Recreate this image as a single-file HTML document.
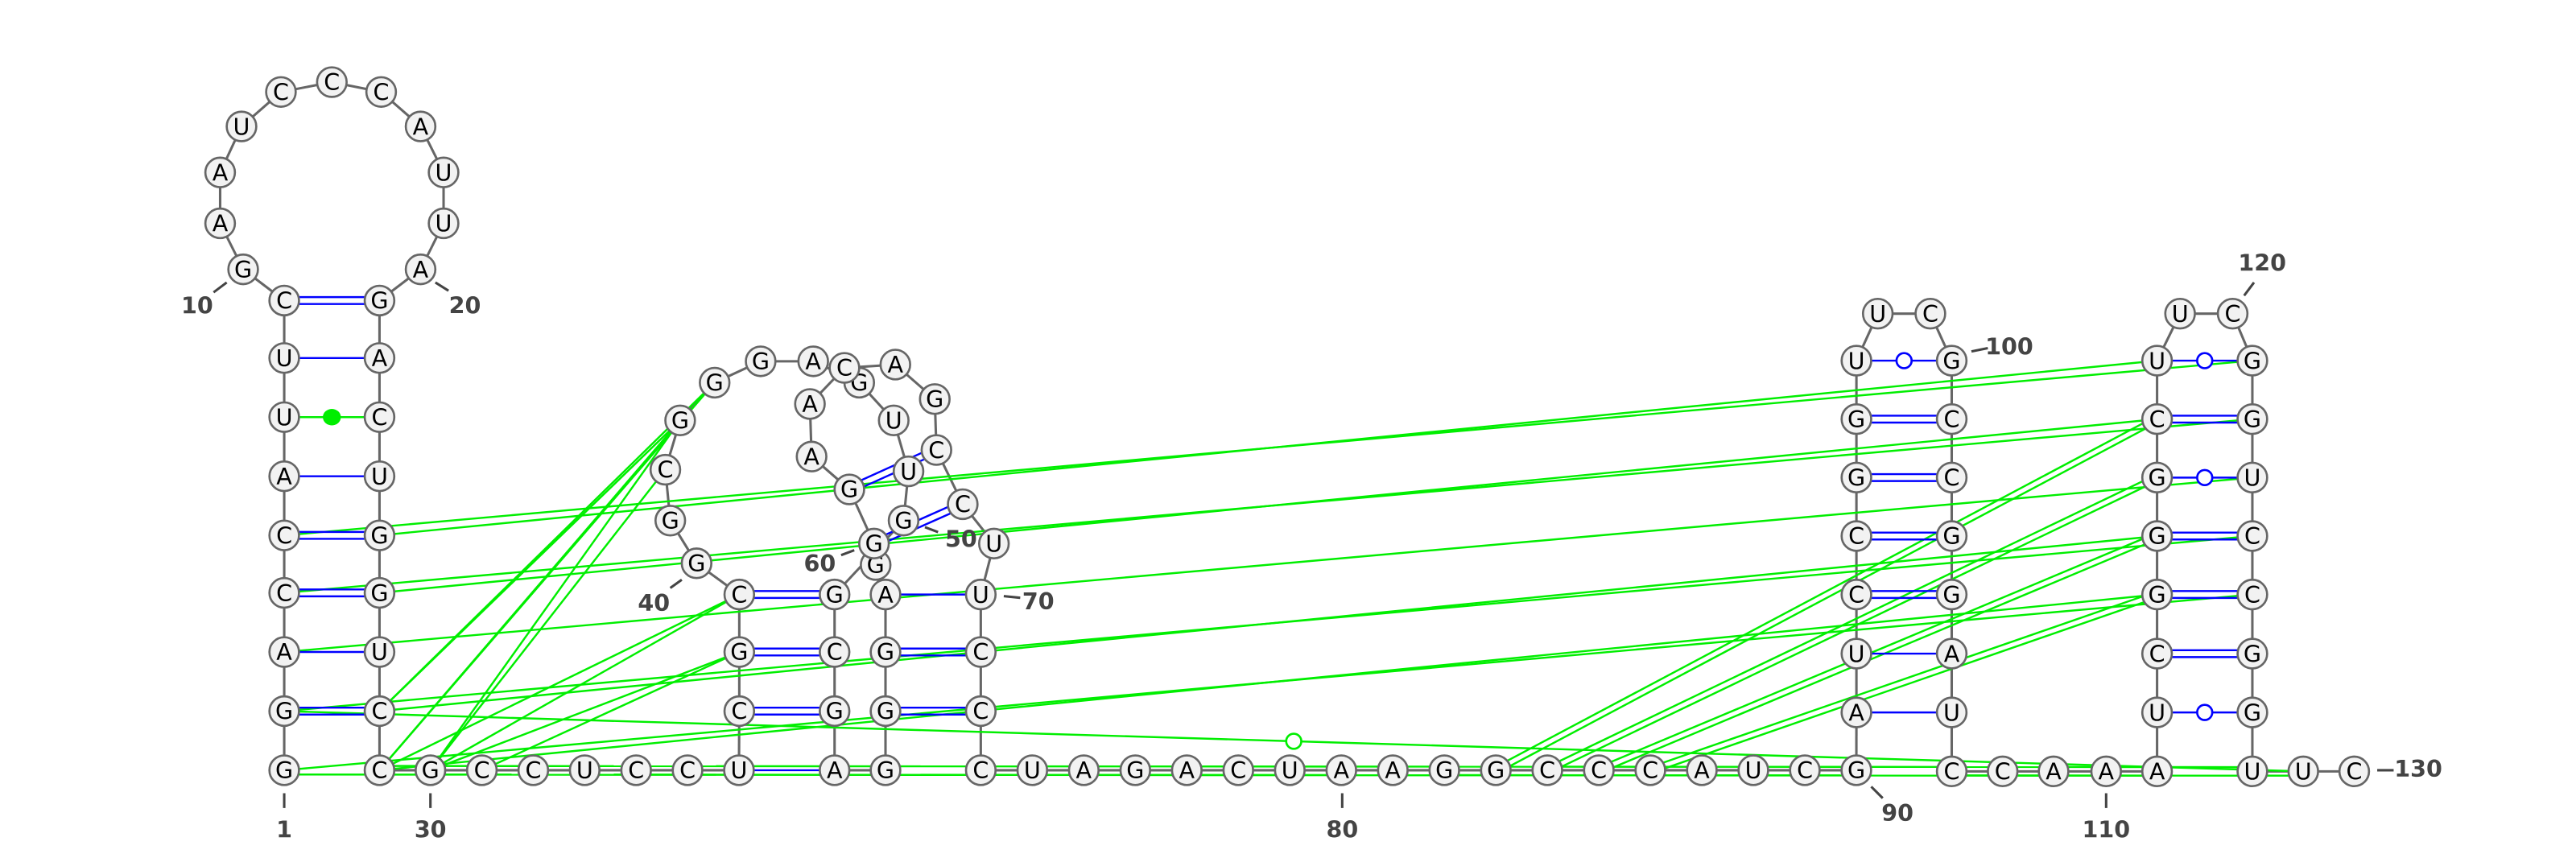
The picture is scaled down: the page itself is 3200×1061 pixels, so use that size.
<!DOCTYPE html>
<html><head><meta charset="utf-8"><style>html,body{margin:0;padding:0;background:#fff}svg{display:block}</style></head>
<body>
<svg id="rna" xmlns="http://www.w3.org/2000/svg" width="3200" height="1061" viewBox="0 0 1568 520" preserveAspectRatio="none">
<g id="gBack"></g><g id="gTert"></g><g id="gPairs"></g><g id="gNodes"></g><g id="gLabels"></g>
</svg>
<script>
// ---- data ----
const sequence = "GGACCAUUCGAAUCCCAUUAGACUGGUCCGCCUCCUCGCGGCGGGAGUUGGCGAGGGAGGGAACAGCCUUCCCUAGACUAAGGCCCAUCGAUCCGGUUCGCCGGAUCCAAAUCGGGCUUCGGUCCGGUUC";
const basePairs = [[2,28],[3,27],[4,26],[5,25],[6,24],[8,22],[9,21],[36,54],[37,53],[38,52],[39,51],[56,72],[57,71],[58,70],[60,68],[61,67],[91,106],[92,105],[93,104],[94,103],[95,102],[96,101],[97,100],[112,127],[113,126],[114,125],[115,124],[116,123],[117,122],[118,121]];
const nonCanonicalPairs = [[7,23]];
const tertiaryPairs = [[5,121],[25,118],[4,122],[26,117],[3,123],[2,124],[28,115],[1,125],[29,114],[83,117],[84,116],[85,115],[86,114],[28,44],[28,43],[29,44],[29,43],[30,43],[30,42],[39,29],[39,30],[38,30],[38,31]];
const tertiaryDoubled = [83,84,85,86];
const bottomTertiary = [[1,111],[29,128],[30,129]];
const bottomOffsets = [2.6,-2.6,2.6];
const wobbleTertiary = [[2,129]];
const numberLabels = [1,10,20,30,40,50,60,70,80,90,100,110,120,130];
// ---- layout ----
const P = {};
const leftCol=[469,433,397,361,326,290,254,218,183];
for(let i=1;i<=9;i++) P[i]=[173,leftCol[i-1]];
const loop1=[[148,164],[134,136],[134,105],[147,77],[171,56],[202,50],[232,56],[256,77],[270,105],[270,136],[256,164]];
for(let i=10;i<=20;i++) P[i]=loop1[i-10];
for(let i=21;i<=29;i++) P[i]=[231,leftCol[29-i]];
for(let i=30;i<=36;i++) P[i]=[262+31.3*(i-30),469];
P[37]=[450,433];P[38]=[450,397];P[39]=[450,362];
const mid=[[424,343],[408,317],[405,286],[414,256],[435,233],[463,220],[495,220],[523,233],[544,256],[553,287],[550,317],[508,362],[508,397],[508,433],[508,469],[539,469],[539,433],[539,397],[539,362],[533,344],[532,331],[517,298],[494,278],[493,246],[514,224],[545,222],[569,243],[570,274],[586,307],[605,331],[597,362],[597,397],[597,433],[597,469]];
for(let i=40;i<=73;i++) P[i]=mid[i-40];
for(let i=74;i<=90;i++) P[i]=[597+31.35*(i-73),469];
const rows=[469.7,433.8,398,362,326.4,290.8,255.2,219.6];
for(let i=91;i<=97;i++) P[i]=[1130,rows[i-90]];
P[98]=[1143,191];P[99]=[1175,191];
for(let i=100;i<=107;i++) P[i]=[1188,rows[107-i]];
P[108]=[1219,469.7];P[109]=[1250,469.7];P[110]=[1282,469.7];P[111]=[1313,469.7];
for(let i=112;i<=118;i++) P[i]=[1313,rows[i-111]];
P[119]=[1327,191];P[120]=[1359,191];
for(let i=121;i<=128;i++) P[i]=[1371,rows[128-i]];
P[129]=[1402,469.7];P[130]=[1433,469.7];
const labelPos={1:[173,510,173,483,173,492],10:[120,191,130,178,138,172],20:[283,191,265,172,273,177],30:[262,510,262,483,262,492],40:[398,372,408,358,415,353],50:[585,333,563,321,571,324],60:[499,348,512,338,520,335],70:[632,371,611,363,621,364],80:[817,510,817,483,817,492],90:[1155,500,1139,479,1146,486],100:[1223,216,1200,214,1210,212],110:[1282,510,1282,483,1282,492],120:[1377,165,1372,172,1366,180],130:[1472,473,1447,469,1457,469]};

const NS="http://www.w3.org/2000/svg";
function mk(tag,attrs,parent){const e=document.createElementNS(NS,tag);for(const k in attrs)e.setAttribute(k,attrs[k]);parent.appendChild(e);return e;}
const gBack=document.getElementById('gBack'),gPairs=document.getElementById('gPairs'),gTert=document.getElementById('gTert'),gNodes=document.getElementById('gNodes'),gLabels=document.getElementById('gLabels');

function line(a,b,off,color,w,parent,name){
  const dx=b[0]-a[0],dy=b[1]-a[1],L=Math.hypot(dx,dy)||1,nx=-dy/L*off,ny=dx/L*off;
  const l=mk('line',{x1:a[0]+nx,y1:a[1]+ny,x2:b[0]+nx,y2:b[1]+ny,stroke:color,'stroke-width':w},parent);
  
  
  return l;
}
for(let i=1;i<130;i++){line(P[i],P[i+1],0,'#666',1.5,gBack,'backbone-segment');}
basePairs.forEach(([i,j])=>{
  const a=sequence[i-1],b=sequence[j-1],s=a+b;
  if(s==='GU'||s==='UG'){
    line(P[i],P[j],0,'#0000ff',1.2,gPairs,'wobble-pair-line');
    const c=mk('circle',{cx:(P[i][0]+P[j][0])/2,cy:(P[i][1]+P[j][1])/2,r:4.6,fill:'#fff',stroke:'#0000ff','stroke-width':1.3},gPairs);
    
    
  } else if(s==='GC'||s==='CG'){
    line(P[i],P[j],2.1,'#0000ff',1.2,gPairs,'gc-pair-line');
    line(P[i],P[j],-2.1,'#0000ff',1.2,gPairs,'gc-pair-line');
  } else line(P[i],P[j],0,'#0000ff',1.2,gPairs,'au-pair-line');
});
nonCanonicalPairs.forEach(([i,j])=>{
  line(P[i],P[j],0,'#00ee00',1.2,gPairs,'noncanonical-pair-line');
  const e=mk('ellipse',{cx:(P[i][0]+P[j][0])/2,cy:(P[i][1]+P[j][1])/2,rx:5.5,ry:5,fill:'#00ee00'},gPairs);
  
  
});
tertiaryPairs.forEach(([i,j])=>{
  if(tertiaryDoubled.includes(i)){
    line(P[i],P[j],1.8,'#00ee00',1.2,gTert,'tertiary-interaction-line');
    line(P[i],P[j],-1.8,'#00ee00',1.2,gTert,'tertiary-interaction-line');
  } else line(P[i],P[j],0,'#00ee00',1.2,gTert,'tertiary-interaction-line');
});
bottomTertiary.forEach(([i,j],k)=>{
  line(P[i],P[j],bottomOffsets[k],'#00ee00',1.2,gTert,'tertiary-bottom-line');
});
wobbleTertiary.forEach(([i,j])=>{
  line(P[i],P[j],0,'#00ee00',1.2,gTert,'tertiary-wobble-line');
  const c=mk('circle',{cx:(P[i][0]+P[j][0])/2,cy:(P[i][1]+P[j][1])/2,r:4.6,fill:'#fff',stroke:'#00ee00','stroke-width':1.3},gTert);
  
  
});
for(let i=1;i<=130;i++){
  const g=mk('g',{},gNodes);
  
  
  mk('circle',{cx:P[i][0],cy:P[i][1],r:9,fill:'#f2f2f2',stroke:'#666','stroke-width':1.3},g);
  const t=mk('text',{x:P[i][0],y:P[i][1]+5,'text-anchor':'middle','font-family':'"DejaVu Sans","Liberation Sans",sans-serif','font-size':14,fill:'#000'},g);
  t.textContent=sequence[i-1];
}
numberLabels.forEach(n=>{
  const p=labelPos[n];
  line([p[2],p[3]],[p[4],p[5]],0,'#444',1.5,gLabels,'label-tick');
  const t=mk('text',{x:p[0],y:p[1],'text-anchor':'middle','font-family':'"DejaVu Sans","Liberation Sans",sans-serif','font-size':14,'font-weight':'bold',fill:'#444'},gLabels);
  
  
  t.textContent=String(n);
});
</script>
</body></html>
